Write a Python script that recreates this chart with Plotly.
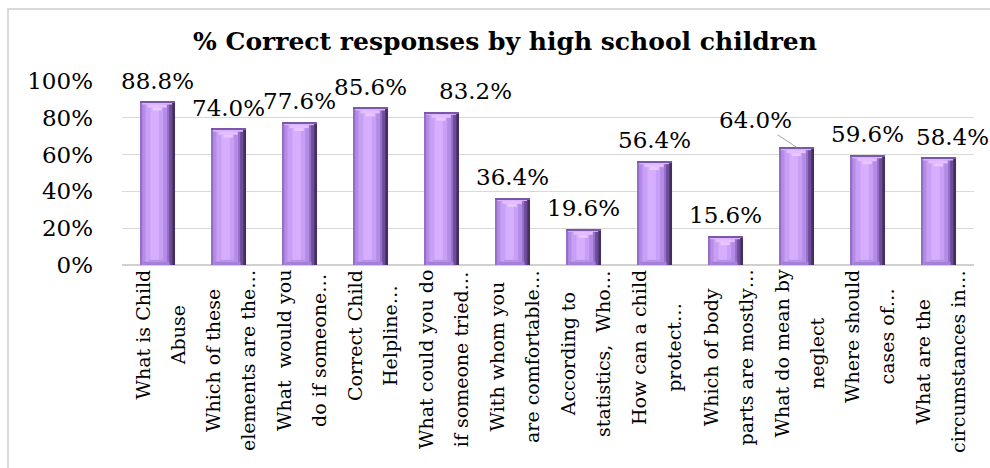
import plotly.graph_objects as go

categories = [
    ["What is Child", "Abuse"],
    ["Which of these", "elements are the…"],
    ["What\u00a0 would you", "do if someone…"],
    ["Correct Child", "Helpline…"],
    ["What could you do", "if someone tried…"],
    ["With whom you", "are comfortable…"],
    ["According to", "statistics,\u00a0 Who…"],
    ["How can a child", "protect…"],
    ["Which of body", "parts are mostly…"],
    ["What do mean by", "neglect"],
    ["Where should", "cases of…"],
    ["What are the", "circumstances in…"],
]
values = [0.888, 0.740, 0.776, 0.856, 0.832, 0.364, 0.196, 0.564, 0.156, 0.640, 0.596, 0.584]
title_text = "% Correct responses by high school children"
y_ticks = [0, 0.2, 0.4, 0.6, 0.8, 1.0]

FONT = "DejaVu Serif"
n = len(categories)
xs = list(range(n))

fig = go.Figure()

def add_bar(offset, width, color, y=None, base=None):
    fig.add_trace(go.Bar(
        x=xs, y=y if y is not None else values, base=base,
        offset=offset, width=width, marker=dict(color=color, line=dict(width=0)),
        hoverinfo="skip", showlegend=False))

# body layers (simulated bevel shading)
add_bar(-0.246, 0.493, "#43305e")
add_bar(-0.246, 0.455, "#6d4c99")
add_bar(-0.246, 0.41, "#9471c6")
add_bar(-0.215, 0.35, "#b48be6")
add_bar(-0.17, 0.25, "#c79ff5")
add_bar(-0.10, 0.12, "#d5aefd")
# bottom bevel
add_bar(-0.20, 0.37, "#a680d8", y=[0.018] * n, base=[0] * n)
add_bar(-0.12, 0.21, "#b892e6", y=[0.01] * n, base=[0.018] * n)
# top bevel (stepped triangle)
step = 0.016
add_bar(-0.215, 0.42, "#dcb4ff", y=[step] * n, base=[v - step for v in values])
add_bar(-0.14, 0.27, "#e3bfff", y=[step] * n, base=[v - 2 * step for v in values])
add_bar(-0.07, 0.13, "#e8c8ff", y=[step] * n, base=[v - 3 * step for v in values])
# top edge
add_bar(-0.246, 0.493, "#7a58a8", y=[0.006] * n, base=[v - 0.006 for v in values])

annotations = []
# category labels: rotated, lines centred; outer font size sets the wider line spacing
for i, lines in enumerate(categories):
    txt = "<br>".join(f"<span style='font-size:19px'>{ln}</span>" for ln in lines)
    annotations.append(dict(
        x=i, y=0, xref="x", yref="paper", text=txt, showarrow=False,
        textangle=-90, xanchor="center", yanchor="top",
        xshift=2, yshift=-5, align="center",
        borderpad=0, borderwidth=0,
        font=dict(family=FONT, size=27, color="#000000")))

# data labels
nudge = {4: (34, 0), 11: (14, 0)}
for i, v in enumerate(values):
    label = f"{v * 100:.1f}%"
    if i == 9:
        annotations.append(dict(
            x=i, y=v, xref="x", yref="y", text=label, showarrow=True,
            arrowhead=0, arrowwidth=1, arrowcolor="#a6a6a6", ax=-41, ay=-27,
            font=dict(family=FONT, size=23, color="#000000")))
        continue
    dx, dy = nudge.get(i, (0, 0))
    annotations.append(dict(
        x=i, y=v, xref="x", yref="y", text=label, showarrow=False,
        xanchor="center", yanchor="middle", xshift=dx, yshift=21 + dy,
        font=dict(family=FONT, size=23, color="#000000")))

# chart border
L, R, T, B = 122, 16, 81, 203
W, H = 990, 468
pw, ph = W - L - R, H - T - B
def px2paper_x(px):
    return (px - L) / pw
def px2paper_y(py):
    return (H - B - py) / ph

shapes = [dict(type="rect", xref="paper", yref="paper",
               x0=px2paper_x(8), x1=px2paper_x(992), y0=px2paper_y(470), y1=px2paper_y(9),
               line=dict(color="#d9d9d9", width=2), fillcolor="rgba(0,0,0,0)", layer="below")]

fig.update_layout(
    width=W, height=H,
    margin=dict(l=L, r=R, t=T, b=B),
    paper_bgcolor="white", plot_bgcolor="white",
    barmode="overlay",
    title=dict(text=f"<b>{title_text}</b>", x=505 / W, xanchor="center",
               y=1 - 41 / H, yanchor="middle",
               font=dict(family=FONT, size=25, color="#000000")),
    xaxis=dict(range=[-0.5, n - 0.5], showticklabels=False, showgrid=False,
               zeroline=False, showline=False, ticks=""),
    yaxis=dict(range=[0, 1], tickvals=y_ticks, tickformat=".0%",
               tickfont=dict(family=FONT, size=23, color="#000000"),
               showgrid=True, gridcolor="#d9d9d9", gridwidth=1,
               zeroline=True, zerolinecolor="#d0d0d0", zerolinewidth=2,
               showline=False, ticks="", ticklabelstandoff=28),
    annotations=annotations,
    shapes=shapes,
    showlegend=False,
)

fig.write_html("out.html")
